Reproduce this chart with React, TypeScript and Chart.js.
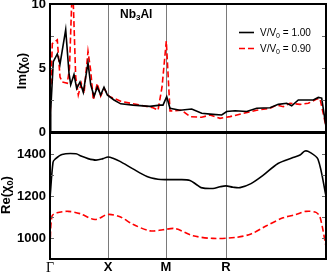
import React, { useEffect, useRef } from 'react';
import { Chart, registerables } from 'chart.js';
Chart.register(...registerables);

const W = 327;
const H = 273;

// k-path positions (arbitrary path units)
const symPoints = [0, 58, 116, 176];
const symLabels = ['Γ', 'X', 'M', 'R'];
const pathEnd = 276;

// Im(chi0), V/V0 = 1.00
const imX100 = [0, 0.7, 3.3, 7.3, 10, 15.7, 19, 20.7, 24, 26.7, 30, 33.3, 38, 40.7, 44, 47.3, 50.7, 54, 57.3, 64, 70.7, 83, 100, 110, 113, 116.7, 120, 130, 141.7, 151.7, 163, 171.7, 176.7, 185, 196.7, 206.7, 220, 228.3, 236.7, 241.7, 248.3, 263.3, 268.3, 271.7, 276];
const imY100 = [0.0, 1.7, 5.5, 6.1, 5.3, 8.0, 4.6, 3.7, 4.5, 3.4, 3.9, 3.1, 5.4, 3.7, 2.8, 3.5, 2.9, 3.5, 2.9, 2.5, 2.2, 2.1, 2.0, 2.1, 2.1, 2.76, 1.85, 1.7, 1.8, 1.46, 1.38, 1.33, 1.6, 1.66, 1.6, 1.85, 1.9, 2.16, 2.24, 2.05, 2.5, 2.5, 2.7, 2.65, 0.4];

// Im(chi0), V/V0 = 0.90
const imX090 = [0, 0.7, 2.3, 7.3, 10, 12.3, 17.3, 19.5, 22.5, 25.7, 28.3, 31.3, 34, 38, 40.7, 43.3, 47.3, 50.7, 54, 59, 70.7, 90, 103, 108, 112, 116.3, 120, 131.7, 140, 151.7, 160, 170, 180, 193.3, 206.7, 220, 226.7, 233.3, 240, 250, 258.3, 266.7, 270, 275, 276];
const imY090 = [0.2, 3.0, 6.9, 7.2, 4.3, 3.9, 3.8, 5.0, 12.0, 4.3, 2.9, 3.8, 3.0, 6.3, 4.8, 2.5, 3.8, 2.8, 3.4, 2.8, 2.4, 2.1, 1.9, 1.7, 3.5, 7.1, 1.64, 1.7, 1.2, 1.15, 1.33, 1.07, 1.2, 1.46, 1.7, 1.85, 2.1, 1.98, 2.24, 2.16, 2.24, 2.58, 2.6, 0.8, 0.4];

// Re(chi0), V/V0 = 1.00
const reX100 = [0, 3, 5, 12, 26, 31, 38, 46, 53, 58, 63, 70, 83, 97, 108, 116, 130, 140, 146, 151, 163, 170, 176, 183, 190, 201, 213, 228, 243, 250, 255, 260, 268, 276];
const reY100 = [1190, 1360, 1375, 1398, 1401, 1390, 1378, 1371, 1378, 1386, 1380, 1365, 1329, 1293, 1280, 1278, 1278, 1274, 1256, 1240, 1236, 1244, 1248, 1242, 1240, 1259, 1298, 1355, 1383, 1395, 1414, 1408, 1375, 1200];

// Re(chi0), V/V0 = 0.90
const reX090 = [0, 2, 7, 18, 30, 45, 58, 70, 83, 100, 113, 125, 143, 163, 186, 201, 216, 233, 246, 256, 266, 270, 276];
const reY090 = [960, 1104, 1120, 1127, 1116, 1088, 1112, 1101, 1065, 1034, 1039, 1045, 1011, 998, 1003, 1019, 1057, 1096, 1112, 1127, 1122, 1100, 960];

const imMajor = [0, 5, 10];
const imMinor = [2.5, 7.5];
const reMajor = [1000, 1200, 1400];
const reMinor = [1100, 1300];

const seriesNames = ['1.00', '0.90'];
const seriesColors = ['#000000', '#ff0000'];
const seriesDash: number[][] = [[], [6, 3]];

const toPts = (xs: number[], ys: number[]) => xs.map((x, i) => ({ x, y: ys[i] }));

type Part = [string, boolean];
function drawParts(ctx: CanvasRenderingContext2D, parts: Part[], x: number, y: number, size: number, weight: string, align: 'left' | 'center') {
  const font = (s: number) => `${weight} ${s}px "Liberation Sans", Arial, sans-serif`;
  const subSize = Math.round(size * 0.7);
  let total = 0;
  parts.forEach(([t, sub]) => { ctx.font = font(sub ? subSize : size); total += ctx.measureText(t).width; });
  let cx = align === 'center' ? x - total / 2 : x;
  ctx.textAlign = 'left';
  ctx.textBaseline = 'alphabetic';
  parts.forEach(([t, sub]) => {
    ctx.font = font(sub ? subSize : size);
    ctx.fillText(t, cx, sub ? y + size * 0.22 : y);
    cx += ctx.measureText(t).width;
  });
}

function framePlugin(major: number[], minor: number[], extra: (chart: any) => void) {
  return {
    id: 'frame',
    beforeDatasetsDraw(chart: any) {
      const { ctx, chartArea: a, scales } = chart;
      ctx.save();
      ctx.strokeStyle = '#7a7a7a';
      ctx.lineWidth = 1;
      symPoints.slice(1).forEach((v) => {
        const px = Math.round(scales.x.getPixelForValue(v)) + 0.5;
        ctx.beginPath();
        ctx.moveTo(px, a.top);
        ctx.lineTo(px, a.bottom);
        ctx.stroke();
      });
      ctx.restore();
    },
    afterDraw(chart: any) {
      const { ctx, chartArea: a, scales } = chart;
      ctx.save();
      ctx.strokeStyle = '#666';
      ctx.lineWidth = 1;
      [...major, ...minor].forEach((v) => {
        const py = Math.round(scales.y.getPixelForValue(v)) + 0.5;
        if (py <= a.top + 2 || py >= a.bottom - 2) return;
        ctx.beginPath();
        ctx.moveTo(a.left, py);
        ctx.lineTo(a.left + 4, py);
        ctx.moveTo(a.right - 4, py);
        ctx.lineTo(a.right, py);
        ctx.stroke();
      });
      ctx.strokeStyle = '#000';
      ctx.lineWidth = 2;
      ctx.strokeRect(a.left, a.top, a.right - a.left, a.bottom - a.top);
      ctx.fillStyle = '#000';
      extra(chart);
      ctx.restore();
    },
  };
}

const tickFont = { family: '"Liberation Sans", Arial, sans-serif', size: 13, weight: 'bold' as const };

function makeDatasets(a: { x: number; y: number }[], b: { x: number; y: number }[], tension: number) {
  return [a, b].map((d, i) => ({
    label: 'V/V0 = ' + seriesNames[i],
    data: d,
    borderColor: seriesColors[i],
    borderDash: seriesDash[i],
    borderWidth: 1.6,
    pointRadius: 0,
    tension,
    fill: false,
    clip: 0,
  }));
}

export default function App() {
  const topRef = useRef<HTMLCanvasElement>(null);
  const botRef = useRef<HTMLCanvasElement>(null);

  useEffect(() => {
    const top = new Chart(topRef.current!, {
      type: 'line',
      data: { datasets: makeDatasets(toPts(imX100, imY100), toPts(imX090, imY090), 0) as any },
      options: {
        animation: false,
        responsive: false,
        layout: { padding: { left: 0, top: 4, right: 1, bottom: 141 } },
        plugins: { legend: { display: false }, tooltip: { enabled: false } },
        scales: {
          x: { type: 'linear', min: 0, max: pathEnd, display: false },
          y: {
            type: 'linear', min: 0, max: 10,
            grid: { display: false, drawTicks: false },
            border: { display: false },
            ticks: { font: tickFont, color: '#000', padding: 4, callback: (v: any) => String(v) },
            afterBuildTicks: (s: any) => { s.ticks = imMajor.map((v) => ({ value: v })); },
            afterFit: (s: any) => { s.width = 50; s.paddingTop = 0; s.paddingBottom = 0; },
          },
        },
      },
      plugins: [framePlugin(imMajor, imMinor, (chart: any) => {
        const ctx = chart.ctx as CanvasRenderingContext2D;
        // title
        drawParts(ctx, [['Nb', false], ['3', true], ['Al', false]], 120, 17.5, 12, 'bold', 'left');
        // y title
        ctx.save();
        ctx.translate(25.5, 71);
        ctx.rotate(-Math.PI / 2);
        drawParts(ctx, [['Im(χ', false], ['0', true], [')', false]], 0, 0, 13, 'bold', 'center');
        ctx.restore();
        // legend
        [0, 1].forEach((i) => {
          const y = 32 + i * 16;
          ctx.save();
          ctx.strokeStyle = seriesColors[i];
          ctx.lineWidth = 1.6;
          ctx.setLineDash(seriesDash[i]);
          ctx.beginPath();
          ctx.moveTo(239, y + 0.5);
          ctx.lineTo(254, y + 0.5);
          ctx.stroke();
          ctx.restore();
          drawParts(ctx, [['V/V', false], ['0', true], [' = ' + seriesNames[i], false]], 260, y + 4, 10, 'normal', 'left');
        });
      })],
    });

    const bot = new Chart(botRef.current!, {
      type: 'line',
      data: { datasets: makeDatasets(toPts(reX100, reY100), toPts(reX090, reY090), 0.3) as any },
      options: {
        animation: false,
        responsive: false,
        layout: { padding: { left: 0, top: 133, right: 1, bottom: 0 } },
        plugins: { legend: { display: false }, tooltip: { enabled: false } },
        scales: {
          x: {
            type: 'linear', min: 0, max: pathEnd,
            grid: { display: false, drawTicks: false },
            border: { display: false },
            ticks: {
              color: '#000', padding: 1, autoSkip: false, maxRotation: 0,
              font: (c: any) => (c.index === 0
                ? { family: '"Liberation Serif", "DejaVu Serif", serif', size: 14, weight: 'normal' }
                : tickFont) as any,
              callback: (_v: any, i: number) => symLabels[i],
            },
            afterBuildTicks: (s: any) => { s.ticks = symPoints.map((v) => ({ value: v })); },
            afterFit: (s: any) => { s.height = 14; s.paddingLeft = 0; s.paddingRight = 0; },
          },
          y: {
            type: 'linear', min: 900, max: 1500,
            grid: { display: false, drawTicks: false },
            border: { display: false },
            ticks: { font: tickFont, color: '#000', padding: 4, callback: (v: any) => String(v) },
            afterBuildTicks: (s: any) => { s.ticks = reMajor.map((v) => ({ value: v })); },
            afterFit: (s: any) => { s.width = 50; s.paddingTop = 0; s.paddingBottom = 0; },
          },
        },
      },
      plugins: [framePlugin(reMajor, reMinor, (chart: any) => {
        const ctx = chart.ctx as CanvasRenderingContext2D;
        ctx.save();
        ctx.translate(10, 195);
        ctx.rotate(-Math.PI / 2);
        drawParts(ctx, [['Re(χ', false], ['0', true], [')', false]], 0, 0, 13, 'bold', 'center');
        ctx.restore();
      })],
    });

    return () => { top.destroy(); bot.destroy(); };
  }, []);

  const layer: React.CSSProperties = { position: 'absolute', left: 0, top: 0, width: W, height: H };
  return (
    <div style={{ position: 'absolute', left: 0, top: 0, width: W, height: H, background: '#fff' }}>
      <canvas ref={topRef} width={W} height={H} style={layer} />
      <canvas ref={botRef} width={W} height={H} style={layer} />
    </div>
  );
}
